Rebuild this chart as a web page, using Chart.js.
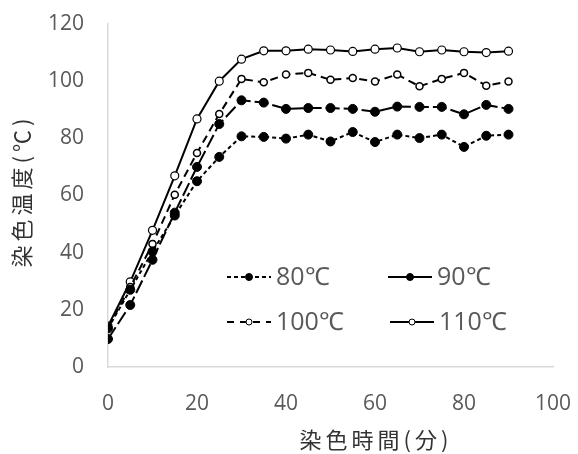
<!DOCTYPE html>
<html>
<head>
<meta charset="utf-8">
<script src="https://cdn.jsdelivr.net/npm/chart.js@4.4.0/dist/chart.umd.min.js"></script>
<style>
  html, body { margin: 0; padding: 0; background: #fff; }
  #wrap { width: 578px; height: 454px; }
</style>
</head>
<body>
<div id="wrap"><canvas id="c" width="578" height="454"></canvas></div>
<script>
// datos
const tiempos = [0, 5, 10, 15, 20, 25, 30, 35, 40, 45, 50, 55, 60, 65, 70, 75, 80, 85, 90];
const temp80 = [13.5, 27, 40.4, 53, 65, 73.5, 80.7, 80.5, 79.9, 81.3, 78.9, 82.2, 78.7, 81.3, 80.1, 81.3, 77.0, 80.9, 81.3];
const temp90 = [9.8, 21.7, 37.5, 54, 70, 85, 93.3, 92.5, 90.3, 90.6, 90.6, 90.3, 89.3, 91.1, 91.0, 91.0, 88.4, 91.7, 90.3];
const temp100 = [13.8, 28, 43, 60.3, 74.9, 88.5, 100.8, 99.6, 102.3, 102.9, 100.5, 101.1, 99.9, 102.3, 98.2, 100.8, 102.9, 98.4, 99.9];
const temp110 = [14.3, 29.8, 47.8, 66.9, 86.8, 100, 107.7, 110.6, 110.6, 111.2, 110.9, 110.4, 111.2, 111.6, 110.3, 110.9, 110.3, 110.0, 110.5];
const etiquetas = ['80℃', '90℃', '100℃', '110℃'];
const yTicks = [0, 20, 40, 60, 80, 100, 120];
const xTicks = [0, 20, 40, 60, 80, 100];
const tituloX = '染色時間(分)';
const tituloY = '染色温度(℃)';

const gris = '#595959';

function puntos(vals) {
    return vals.map((v, i) => ({ x: tiempos[i], y: v }));
}

const datasets = [
    { label: etiquetas[0], data: puntos(temp80), borderColor: '#000', backgroundColor: '#000', borderWidth: 2, borderDash: [4, 3], pointRadius: 4.5, pointBorderWidth: 1, pointBackgroundColor: '#000' },
    { label: etiquetas[1], data: puntos(temp90), borderColor: '#000', backgroundColor: '#000', borderWidth: 2, borderDash: [14, 4], pointRadius: 4.5, pointBorderWidth: 1, pointBackgroundColor: '#000' },
    { label: etiquetas[2], data: puntos(temp100), borderColor: '#000', backgroundColor: '#fff', borderWidth: 2, borderDash: [8, 5], pointRadius: 3.5, pointBorderWidth: 1.5, pointBackgroundColor: '#fff' },
    { label: etiquetas[3], data: puntos(temp110), borderColor: '#000', backgroundColor: '#fff', borderWidth: 2, borderDash: [], pointRadius: 4, pointBorderWidth: 1.2, pointBackgroundColor: '#fff' }
];
const dashLeyenda = [[4, 3], [], [7, 6], []];

// leyenda 2x2 dentro del área y títulos de ejes
const extras = {
    id: 'extras',
    afterDraw(chart) {
        const ctx = chart.ctx;
        const pos = [[227, 277], [388, 277], [227, 322], [390, 322]];
        ctx.save();
        chart.data.datasets.forEach((ds, i) => {
            const [x, y] = pos[i];
            ctx.strokeStyle = ds.borderColor;
            ctx.lineWidth = 2;
            ctx.setLineDash(dashLeyenda[i]);
            ctx.beginPath();
            ctx.moveTo(x, y);
            ctx.lineTo(x + 44, y);
            ctx.stroke();
            ctx.setLineDash([]);
            ctx.beginPath();
            ctx.arc(x + 22, y, i < 2 ? 3.5 : 3, 0, Math.PI * 2);
            ctx.fillStyle = ds.pointBackgroundColor;
            ctx.fill();
            ctx.lineWidth = 1;
            ctx.stroke();
            ctx.fillStyle = gris;
            ctx.font = '25px "Open Sans"';
            ctx.textBaseline = 'middle';
            ctx.textAlign = 'left';
            ctx.fillText(ds.label, x + 49, y + 1);
        });
        ctx.fillStyle = '#333';
        ctx.font = '22px "Noto Sans CJK JP"';
        ctx.letterSpacing = '4px';
        ctx.textAlign = 'center';
        ctx.textBaseline = 'middle';
        ctx.fillText(tituloX, 376, 440);
        ctx.translate(22, 191);
        ctx.rotate(-Math.PI / 2);
        ctx.fillText(tituloY, 0, 0);
        ctx.restore();
    }
};

const ctx = document.getElementById('c').getContext('2d');
new Chart(ctx, {
    type: 'line',
    data: { datasets },
    options: {
        responsive: false,
        animation: false,
        layout: { padding: { left: 0, right: 25, top: 24, bottom: 0 } },
        plugins: { legend: { display: false }, tooltip: { enabled: false } },
        scales: {
            x: {
                type: 'linear', min: 0, max: 100,
                afterBuildTicks: s => { s.ticks = xTicks.map(v => ({ value: v })); },
                afterFit: s => { s.height = 87; s.paddingLeft = 0; s.paddingRight = 0; },
                grid: { display: false, drawTicks: false },
                border: { color: '#d9d9d9', width: 1.5 },
                ticks: { color: gris, font: { family: 'Open Sans', size: 21 }, padding: 24, maxRotation: 0 }
            },
            y: {
                min: 0, max: 120,
                afterBuildTicks: s => { s.ticks = yTicks.map(v => ({ value: v })); },
                afterFit: s => { s.width = 108; s.paddingTop = 0; s.paddingBottom = 0; },
                grid: { display: false, drawTicks: false },
                border: { color: '#d9d9d9', width: 1.5 },
                ticks: { color: gris, font: { family: 'Open Sans', size: 21 }, padding: 24 }
            }
        }
    },
    plugins: [extras]
});
</script>
</body>
</html>
